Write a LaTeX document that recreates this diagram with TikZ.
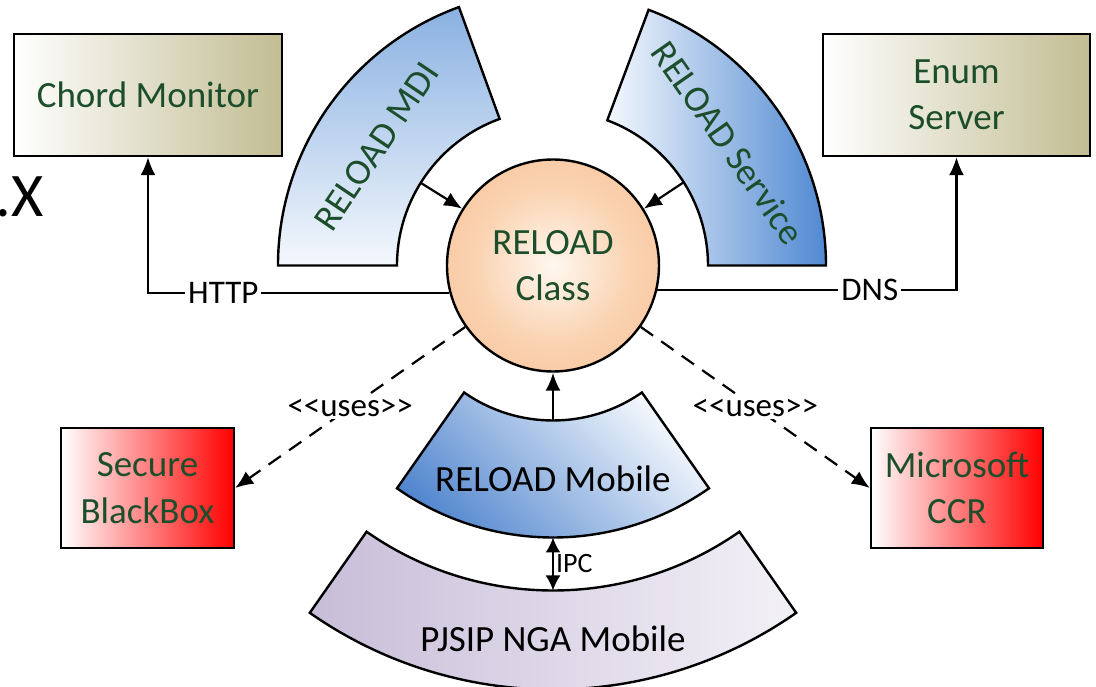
\documentclass[tikz,border=0pt]{standalone}
\usepackage{fontspec}
\setmainfont{Carlito}
\usetikzlibrary{arrows.meta,calc}
\definecolor{txtgreen}{RGB}{28,78,44}
\definecolor{khaki}{RGB}{194,189,146}
\definecolor{mdiblue}{RGB}{138,177,225}
\definecolor{paleblue}{RGB}{244,248,253}
\definecolor{svcblue}{RGB}{80,137,210}
\definecolor{mobblue}{RGB}{80,133,206}
\definecolor{lilac}{RGB}{200,189,216}
\definecolor{lilacw}{RGB}{243,241,247}
\pgfdeclareradialshading{peach}{\pgfpoint{0bp}{0bp}}{rgb(0bp)=(1,0.97,0.94); rgb(18bp)=(0.98,0.83,0.70); rgb(50bp)=(0.96,0.69,0.48)}
\newcommand{\fbig}{\fontsize{37}{46.5}\selectfont}
\newcommand{\flbl}{\fontsize{33}{40}\selectfont}
\newcommand{\fipc}{\fontsize{28}{34}\selectfont}
\newcommand{\fxx}{\fontsize{62}{70}\selectfont}
\begin{document}
\begin{tikzpicture}[x=1pt,y=1pt,
  outl/.style={draw=black, line width=2.4pt},
  box/.style={outl, align=center, text=txtgreen, font=\fbig, inner sep=2pt},
  sector/.style={outl},
  arr/.style={-{Latex[length=18pt,width=15pt]}, line width=2.2pt},
  dbl/.style={{Latex[length=15pt,width=15pt]}-{Latex[length=15pt,width=15pt]}, line width=2.2pt},
  usesline/.style={arr, dash pattern=on 15pt off 10pt},
  lbl/.style={fill=white, inner sep=3pt, font=\flbl, text=black}
]
\useasboundingbox (-553,-421.5) rectangle (543,265.5);
\clip (-553,-421.5) rectangle (543,265.5);

% cut-off text fragment
\node[font=\fxx, anchor=base east, inner sep=0pt] (xfrag) at (-509,48.5) {.X};

% sectors
\path[sector, top color=mdiblue, bottom color=paleblue]
  (110:156) arc[start angle=110, end angle=180, radius=156]
  -- (180:275) arc[start angle=180, end angle=110, radius=275] -- cycle;
\path[sector, left color=paleblue, right color=svcblue]
  (0:155) arc[start angle=0, end angle=69.5, radius=155]
  -- (69.5:273) arc[start angle=69.5, end angle=0, radius=273] -- cycle;
\path[sector, top color=mobblue, bottom color=paleblue, shading angle=135]
  (235:155) arc[start angle=235, end angle=305, radius=155]
  -- (305:272) arc[start angle=305, end angle=235, radius=272] -- cycle;
\path[sector, left color=lilac, right color=lilacw]
  (235:325) arc[start angle=235, end angle=305, radius=325]
  -- (305:424) arc[start angle=305, end angle=235, radius=424] -- cycle;

\node[rotate=56, text=txtgreen, font=\fbig] (mdi) at (146:213) {RELOAD MDI};
\node[rotate=-55, text=txtgreen, font=\fbig] (svc) at (35:214) {RELOAD Service};
\node[font=\fbig] (mob) at (270:213) {RELOAD Mobile};
\node[font=\fbig] (pj) at (270:373) {PJSIP NGA Mobile};

% central class
\node[circle, outl, shade, shading=peach, minimum size=212pt, inner sep=0pt,
      align=center, text=txtgreen, font=\fbig] (rc) at (0,0) {RELOAD\\Class};

% boxes
\node[box, left color=white, right color=khaki, minimum width=268pt, minimum height=122pt]
  (chord) at (-405,170.5) {Chord Monitor};
\node[box, left color=white, right color=khaki, minimum width=267pt, minimum height=122pt]
  (enum) at (403.5,170.5) {Enum\\Server};
\node[box, left color=white, right color=red, minimum width=173pt, minimum height=120pt]
  (sbb) at (-405.5,-222.5) {Secure\\BlackBox};
\node[box, left color=white, right color=red, minimum width=172pt, minimum height=120pt]
  (ccr) at (404,-222.5) {Microsoft\\CCR};

% connectors
\coordinate (mdiin) at (148:156);
\coordinate (svcin) at (32.5:155);
\coordinate (mobin) at (270:155);
\coordinate (mobout) at (270:272);
\coordinate (pjin) at (270:325);
\draw[arr] (mdiin) -- (rc.148);
\draw[arr] (svcin) -- (rc.32.5);
\draw[arr] (mobin) -- (rc.south);
\draw[dbl] (mobout) -- node[right, font=\fipc, inner sep=2pt] (ipc) {IPC} (pjin);

\draw[arr] (rc.195) -- node[lbl, pos=0.75] (http) {HTTP} (rc.195 -| chord.south) -- (chord.south);
\draw[arr] (rc.347) -- node[lbl, pos=0.71] (dns) {DNS} (rc.347 -| enum.south) -- (enum.south);

\draw[usesline] (rc.215) -- node[lbl] (uses1) {<\kern0pt<uses>\kern0pt>} (sbb.east);
\draw[usesline] (rc.325) -- node[lbl] (uses2) {<\kern0pt<uses>\kern0pt>} (ccr.west);
\end{tikzpicture}
\end{document}
